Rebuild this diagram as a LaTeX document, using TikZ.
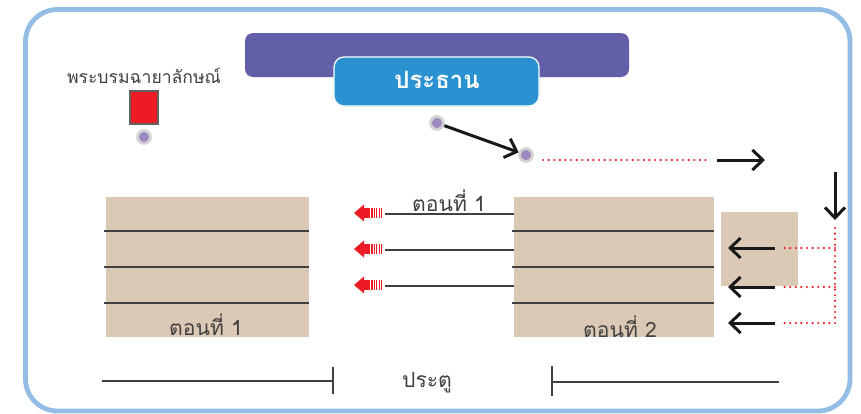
\documentclass[tikz,border=0pt]{standalone}
\usepackage{fontspec}
\setmainfont{Liberation Sans}
\newfontfamily\thaifont[Script=Thai]{Loma}
\usetikzlibrary{arrows.meta,positioning}
\definecolor{frameblue}{HTML}{94BDE5}
\definecolor{bandpurple}{HTML}{635EA8}
\definecolor{boxblue}{HTML}{2A92D0}
\definecolor{plankbeige}{HTML}{DCC9B5}
\definecolor{flagred}{HTML}{ED1C24}
\definecolor{inkgray}{HTML}{404040}
\definecolor{dotpurple}{HTML}{9E88C0}
\def\fadearrow(#1){\begin{scope}[shift={(#1)}]
  \fill[flagred] (0,0) -- (10,-8.5) -- (10,8.5) -- cycle;
  \fill[flagred] (9.5,-5) rectangle (16,5);
  \foreach \x/\w in {17/1.6, 19.5/1.3, 22/1.0, 24.5/0.8, 27/0.6}
    \fill[flagred] (\x,-5) rectangle ++(\w,10);
\end{scope}}

\begin{document}
\begin{tikzpicture}[x=0.025cm, y=-0.025cm,
    thai/.style={font=\thaifont, text=inkgray},
    dot/.style={circle, fill=dotpurple, draw=black!18, line width=0.7mm, minimum size=3.2mm, inner sep=0pt},
    walk/.style={line width=0.75mm, black!90, -{Straight Barb[length=2.6mm, width=5mm, line width=0.75mm]}},
    trail/.style={flagred, line width=0.6mm, line cap=round, dash pattern=on 0pt off 1.4mm},
    rule/.style={line width=0.35mm, inkgray}]
			%%%%% START %%%%%
			\useasboundingbox (0,0) rectangle (861,414);
			
			\draw[frameblue, line width=1.2mm, fill=white, rounded corners=8mm] (25.5,9.5) rectangle (850,411);
			
			\fill[bandpurple, rounded corners=2mm] (245,33) rectangle (629,77);
			\draw[boxblue, fill=boxblue, rounded corners=2.5mm] (334,57) rectangle (539,106);
			\draw[white, line width=0.3mm, rounded corners=2.5mm] (334,57) rectangle (539,106);
			\node[font=\thaifont\bfseries\fontsize{17}{20}\selectfont, text=white] (chair) at (437,80) {ประธาน};
			
			\node[thai, font=\thaifont\fontsize{12.5}{15}\selectfont] (portrait) at (144,76) {พระบรมฉายาลักษณ์};
			\draw[fill=flagred, draw=black!62, line width=0.7mm] (130,91) rectangle (158,124);
			
			\node[dot] (d0) at (144,137) {};
			\node[dot] (d1) at (437,123) {};
			\node[dot] (d2) at (526,155) {};
			\draw[walk] (d1) -- (d2);
			
			% planks
			\fill[plankbeige] (106,197) rectangle (309,337);
			\fill[plankbeige] (514,197) rectangle (714,337);
			\fill[plankbeige] (721,212) rectangle (798,286);
			\foreach \y in {231,267,303} {
				\draw[rule] (104,\y) -- (309,\y);
				\draw[rule] (512,\y) -- (714,\y);
			}
			\node[thai, font=\thaifont\fontsize{15}{18}\selectfont, anchor=base] (part1) at (206,335) {ตอนที่ 1};
			\node[thai, font=\thaifont\fontsize{15}{18}\selectfont, anchor=base] (part2) at (620,337) {ตอนที่ 2};
			
			% leaving rows
			\foreach \i/\y in {1/214,2/250,3/286} {
				\coordinate (row\i) at (514,\y);
				\coordinate (tail\i) at (385,\y);
				\draw[rule] (row\i) -- (tail\i);
				\fadearrow(354,\y-1)
			}
			\node[thai, font=\thaifont\fontsize{15}{18}\selectfont, anchor=base] (lead) at (449,211) {ตอนที่ 1};
			
			% entering path
			\coordinate (p1) at (543,160);
			\coordinate (p2) at (709,160);
			\draw[trail] (p1) -- (p2);
			\coordinate (e1) at (717,160);
			\coordinate (e2) at (765,160);
			\draw[walk] (e1) -- (e2);
			\coordinate (f1) at (835,172);
			\coordinate (f2) at (835,220);
			\draw[walk] (f1) -- (f2);
			\coordinate (g1) at (835,228);
			\coordinate (g2) at (835,323);
			\draw[trail] (g1) -- (g2);
			\foreach \i/\y in {1/248,2/287,3/323} {
				\coordinate (h\i) at (782,\y);
				\draw[trail] (835,\y) -- (h\i);
				\coordinate (k\i) at (775,\y);
				\coordinate (m\i) at (728,\y);
				\draw[walk] (k\i) -- (m\i);
			}
			
			% door
			\coordinate (l1) at (102,381);
			\coordinate (l2) at (333,381);
			\draw[line width=0.3mm, inkgray] (l1) -- (l2);
			\draw[line width=0.4mm, inkgray] (333,367) -- (333,394);
			\coordinate (r1) at (552,382);
			\coordinate (r2) at (779,382);
			\draw[line width=0.4mm, inkgray] (552,366) -- (552,396);
			\draw[line width=0.3mm, inkgray] (r1) -- (r2);
			\node[thai, font=\thaifont\fontsize{15}{18}\selectfont] (door) at (427,383) {ประตู};
			
			%%%%% END %%%%%
		\end{tikzpicture}
\end{document}
